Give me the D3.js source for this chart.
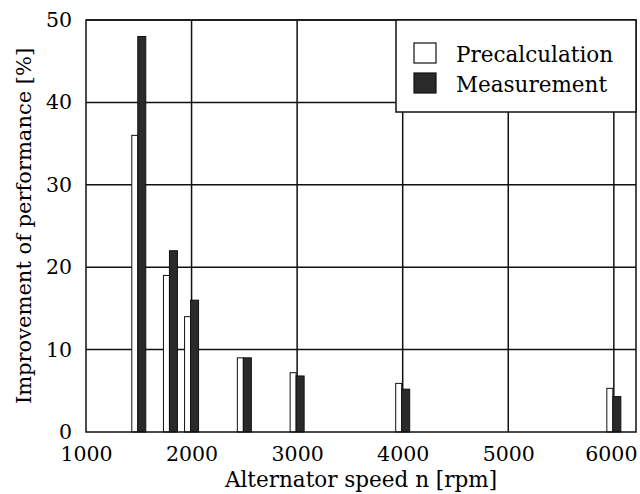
<!DOCTYPE html>
<html lang="en"><head>
<meta charset="utf-8">
<title>Improvement of performance</title>
<script src="https://cdn.jsdelivr.net/npm/d3@7"></script>
<style>
body { margin: 0; background: #fff; }
text { font-family: "DejaVu Serif", serif; fill: #000; }
</style>
</head>
<body>
<script>
// data
var speeds = [1500, 1800, 2000, 2500, 3000, 4000, 6000];
var precalculation = [36, 19, 14, 9, 7.2, 5.9, 5.3];
var measurement = [48, 22, 16, 9, 6.8, 5.2, 4.3];
var xTicks = [1000, 2000, 3000, 4000, 5000, 6000];
var yTicks = [0, 10, 20, 30, 40, 50];
var seriesNames = ["Precalculation", "Measurement"];

var width = 640, height = 494;
var margin = {top: 20, right: 4, bottom: 62, left: 86};

var svg = d3.select("body").append("svg").attr("width", width).attr("height", height);

var x = d3.scaleLinear().domain([1000, 6210]).range([margin.left, width - margin.right]);
var y = d3.scaleLinear().domain([0, 50]).range([height - margin.bottom, margin.top]);

// grid
svg.append("g").selectAll("line").data(xTicks.slice(1)).enter().append("line")
    .attr("x1", d => x(d)).attr("x2", d => x(d))
    .attr("y1", y(0)).attr("y2", y(50))
    .attr("stroke", "#111").attr("stroke-width", 1.5);
svg.append("g").selectAll("line").data(yTicks.slice(1)).enter().append("line")
    .attr("x1", x(1000)).attr("x2", x(6210))
    .attr("y1", d => y(d)).attr("y2", d => y(d))
    .attr("stroke", "#111").attr("stroke-width", 1.5);

// bars
svg.append("g").selectAll("rect").data(speeds).enter().append("rect")
    .attr("x", d => x(d) - 7).attr("width", 6)
    .attr("y", (d, i) => y(precalculation[i]))
    .attr("height", (d, i) => y(0) - y(precalculation[i]))
    .attr("fill", "#fff").attr("stroke", "#111").attr("stroke-width", 1);
svg.append("g").selectAll("rect").data(speeds).enter().append("rect")
    .attr("x", d => x(d) - 1).attr("width", 8)
    .attr("y", (d, i) => y(measurement[i]))
    .attr("height", (d, i) => y(0) - y(measurement[i]))
    .attr("fill", "#2a2a2a").attr("stroke", "#111").attr("stroke-width", 1);

// frame
svg.append("rect").attr("x", x(1000)).attr("y", y(50))
    .attr("width", x(6210) - x(1000)).attr("height", y(0) - y(50))
    .attr("fill", "none").attr("stroke", "#111").attr("stroke-width", 1.5);

// axes
var xAxis = d3.axisBottom(x).tickValues(xTicks).tickFormat(d3.format("d")).tickSize(0).tickPadding(14);
var gX = svg.append("g").attr("transform", "translate(0," + y(0) + ")").call(xAxis);
gX.select(".domain").remove();
gX.selectAll("text").attr("font-size", 20.5).attr("font-family", "DejaVu Serif").attr("fill", "#000");
gX.selectAll(".tick").filter(d => d === 6000).select("text").attr("dx", -3);

var yAxis = d3.axisLeft(y).tickValues(yTicks).tickSize(0).tickPadding(14);
var gY = svg.append("g").attr("transform", "translate(" + x(1000) + ",0)").call(yAxis);
gY.select(".domain").remove();
gY.selectAll("text").attr("font-size", 20.5).attr("font-family", "DejaVu Serif").attr("fill", "#000");

// axis titles
svg.append("text").attr("x", (x(1000) + x(6210)) / 2).attr("y", 487)
    .attr("text-anchor", "middle").attr("font-size", 21.5)
    .text("Alternator speed n [rpm]");
svg.append("text").attr("transform", "translate(31," + (y(0) + y(50)) / 2 + ") rotate(-90)")
    .attr("text-anchor", "middle").attr("font-size", 21)
    .text("Improvement of performance [%]");

// legend
var lg = svg.append("g");
lg.append("rect").attr("x", 396).attr("y", y(50)).attr("width", x(6210) - 396).attr("height", 92)
    .attr("fill", "#fff").attr("stroke", "#111").attr("stroke-width", 1.5);
var fills = ["#fff", "#2a2a2a"];
seriesNames.forEach(function(name, i) {
    lg.append("rect").attr("x", 414).attr("y", 43 + i * 30).attr("width", 22).attr("height", 20)
        .attr("fill", fills[i]).attr("stroke", "#111").attr("stroke-width", 1.2);
    lg.append("text").attr("x", 456).attr("y", 62 + i * 30).attr("font-size", 21.5).text(name);
});
</script>
</body>
</html>
